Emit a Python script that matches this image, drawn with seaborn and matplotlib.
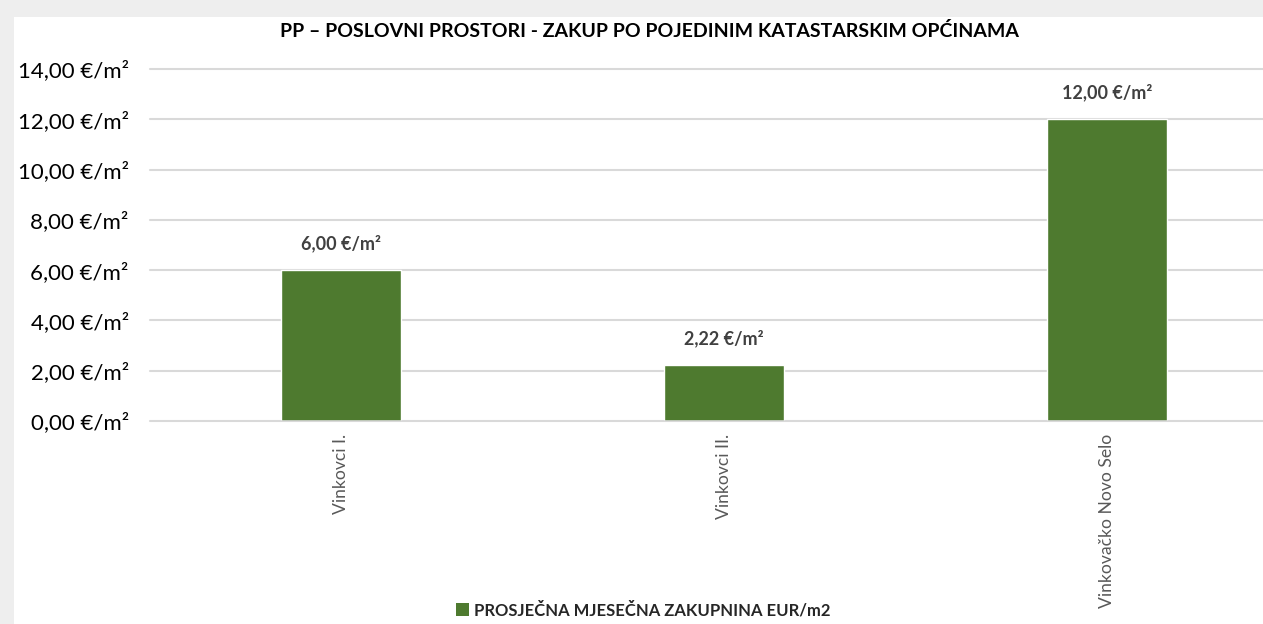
import matplotlib
matplotlib.use('Agg')
import matplotlib.pyplot as plt
from matplotlib.patches import Patch, Rectangle
from matplotlib.ticker import FuncFormatter
import pandas as pd
import seaborn as sns

# podaci
categories = ['Vinkovci I.', 'Vinkovci II.', 'Vinkovačko Novo Selo']
rent_values = [6.00, 2.22, 12.00]
y_ticks = [0, 2, 4, 6, 8, 10, 12, 14]
title = 'PP – POSLOVNI PROSTORI - ZAKUP PO POJEDINIM KATASTARSKIM OPĆINAMA'
series_name = 'PROSJEČNA MJESEČNA ZAKUPNINA EUR/m2'

BAR_COLOR = '#4e7a2f'
GRID_COLOR = '#d9d9d9'


def eur_m2(v):
    return f'{v:.2f}'.replace('.', ',') + ' €/m²'


def main():
    sns.set_theme(style='white')
    plt.rcParams['font.family'] = ['Lato', 'DejaVu Sans']

    df = pd.DataFrame({'ko': categories, 'zakupnina': rent_values})

    fig = plt.figure(figsize=(12.63, 6.24), dpi=100)
    fig.patch.set_facecolor('#eeeeee')
    fig.patches.append(Rectangle((14 / 1263, 0), 1, 1 - 17 / 624, transform=fig.transFigure,
                                 facecolor='white', edgecolor='none', zorder=-10))

    ax = fig.add_axes([149.5 / 1263, 1 - 421 / 624, 1 - 149.5 / 1263, (421 - 69) / 624])
    ax.set_facecolor('none')

    sns.barplot(data=df, x='ko', y='zakupnina', color=BAR_COLOR, width=0.313,
                saturation=1, ax=ax, zorder=3)

    ax.set_xlim(-0.5, 2.407)
    ax.set_ylim(0, 14)
    ax.set_yticks(y_ticks)
    ax.yaxis.set_major_formatter(FuncFormatter(lambda v, _: eur_m2(v)))
    ax.grid(axis='y', color=GRID_COLOR, linewidth=1.5, zorder=0)
    for line in ax.get_ygridlines():
        line.set_clip_on(False)
    for s in ax.spines.values():
        s.set_visible(False)
    ax.axhline(0, color=GRID_COLOR, linewidth=1.8, zorder=4)

    ax.tick_params(axis='y', length=0, pad=15, labelsize=16, labelcolor='#000000')
    ax.tick_params(axis='x', length=0, pad=9, labelsize=12.6, labelcolor='#595959')
    plt.setp(ax.get_xticklabels(), rotation=90, va='top', ha='center')
    ax.set_xlabel('')
    ax.set_ylabel('')

    ax.bar_label(ax.containers[0], labels=[eur_m2(v) for v in rent_values], padding=13,
                 fontsize=13, fontweight='bold', color='#404040')

    fig.text(649 / 1263, 1 - 31 / 624, title, ha='center', va='center',
             fontsize=14, fontweight='bold', color='#000000')

    handle = Patch(facecolor=BAR_COLOR, edgecolor='none')
    fig.legend([handle], [series_name], loc='center', bbox_to_anchor=(643 / 1263, 1 - 610 / 624),
               frameon=False, handlelength=0.75, handleheight=0.75, handletextpad=0.3,
               prop={'weight': 'bold', 'size': 12})

    fig.savefig('out.png', dpi=100, facecolor=fig.get_facecolor())
    plt.close(fig)


if __name__ == '__main__':
    main()
